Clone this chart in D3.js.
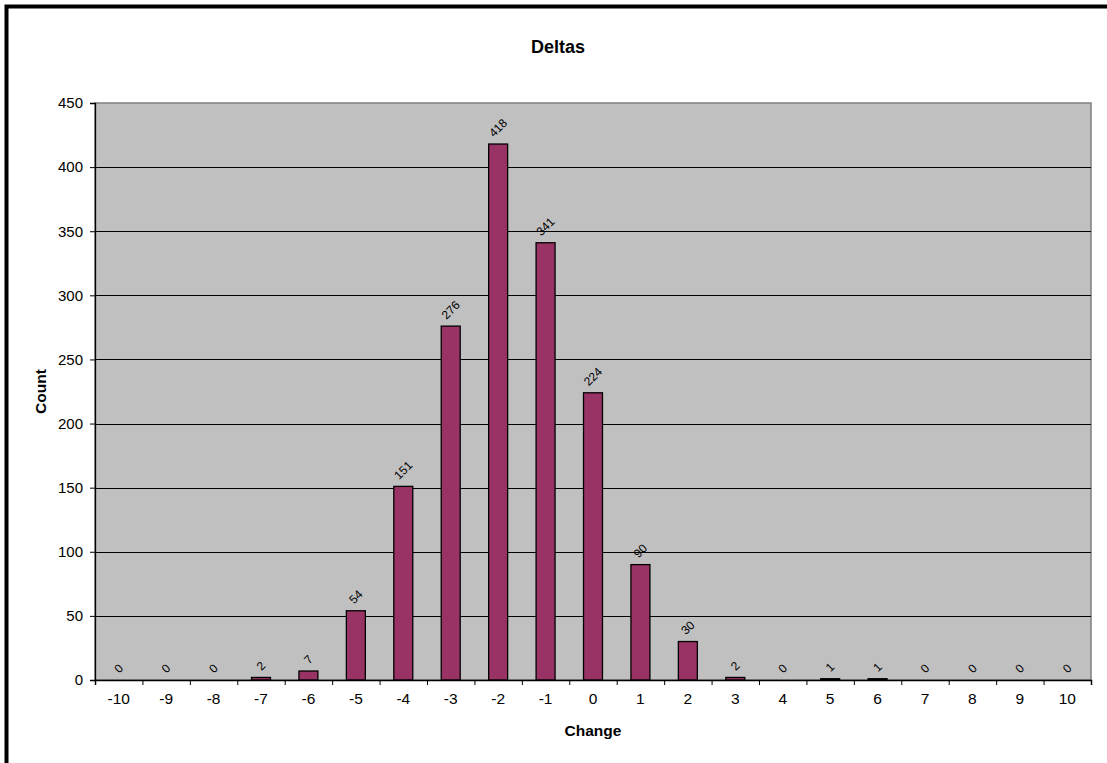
<!DOCTYPE html>
<html>
<head>
<meta charset="utf-8">
<script src="https://cdn.jsdelivr.net/npm/d3@7"></script>
<style>
  html, body { margin: 0; padding: 0; background: #fff; }
  svg { display: block; }
  text { font-family: "Liberation Sans", Arial, sans-serif; fill: #000; }
</style>
</head>
<body>
<svg id="chart" width="1107" height="763"></svg>
<script>
// Histogram of deltas: count of items per change value
const changes = [-10, -9, -8, -7, -6, -5, -4, -3, -2, -1, 0, 1, 2, 3, 4, 5, 6, 7, 8, 9, 10];
const counts  = [0, 0, 0, 2, 7, 54, 151, 276, 418, 341, 224, 90, 30, 2, 0, 1, 1, 0, 0, 0, 0];
const yTicks  = [0, 50, 100, 150, 200, 250, 300, 350, 400, 450];

const chartTitle = "Deltas";
const xTitle = "Change";
const yTitle = "Count";

const svg = d3.select("#chart");
const plot = { left: 95, right: 1091, top: 103, bottom: 680 };

// outer chart frame (runs past the right and bottom edges)
svg.append("rect")
  .attr("x", 6.5).attr("y", 6.5)
  .attr("width", 1110).attr("height", 770)
  .attr("fill", "#fff").attr("stroke", "#000").attr("stroke-width", 4);

const x = d3.scaleBand()
  .domain(changes)
  .range([plot.left, plot.right])
  .paddingInner(0.6)
  .paddingOuter(0.3);

// category boundaries for the tick marks
const xEdge = d3.scaleLinear()
  .domain([0, changes.length])
  .range([plot.left, plot.right]);

const y = d3.scaleLinear()
  .domain([0, 450])
  .range([plot.bottom, plot.top]);

// plot background
svg.append("rect")
  .attr("x", plot.left).attr("y", plot.top)
  .attr("width", plot.right - plot.left).attr("height", plot.bottom - plot.top)
  .attr("fill", "#c0c0c0").attr("stroke", "#808080").attr("stroke-width", 1.5);

// horizontal gridlines
svg.append("g")
  .selectAll("line")
  .data(yTicks.filter(v => v > 0 && v < 450))
  .join("line")
  .attr("x1", plot.left).attr("x2", plot.right)
  .attr("y1", d => Math.round(y(d)) + 0.5).attr("y2", d => Math.round(y(d)) + 0.5)
  .attr("stroke", "#000").attr("stroke-width", 1);

// bars
svg.append("g")
  .selectAll("rect")
  .data(changes.map((c, i) => ({ c, v: counts[i] })))
  .join("rect")
  .attr("x", d => x(d.c))
  .attr("y", d => y(d.v))
  .attr("width", x.bandwidth())
  .attr("height", d => y(0) - y(d.v))
  .attr("fill", "#993366")
  .attr("stroke", "#000")
  .attr("stroke-width", d => d.v > 0 ? 1.3 : 0);

// value labels, rotated 45 degrees above each bar
const labels = svg.append("g")
  .selectAll("text")
  .data(changes.map((c, i) => ({ c, v: counts[i] })))
  .join("text")
  .attr("font-size", 12)
  .attr("text-anchor", "middle")
  .attr("dominant-baseline", "central")
  .text(d => d.v);

labels.each(function (d) {
  const w = this.getComputedTextLength();
  const h = 8.5;
  const cx = x(d.c) + x.bandwidth() / 2;
  const cy = y(d.v) - 6 - (w + h) / (2 * Math.SQRT2);
  d3.select(this).attr("transform", `translate(${cx},${cy}) rotate(-45)`);
});

// y axis
const yAxis = svg.append("g")
  .attr("transform", `translate(${plot.left},0)`)
  .call(d3.axisLeft(y).tickValues(yTicks).tickSize(5).tickPadding(7));
yAxis.select(".domain").attr("stroke", "#000").attr("stroke-width", 1.3);
yAxis.selectAll(".tick line").attr("stroke", "#000");
yAxis.selectAll(".tick text").attr("font-size", 15)
  .attr("font-family", "Liberation Sans, Arial, sans-serif");

// x axis: tick marks at category edges
const xTickAxis = svg.append("g")
  .attr("transform", `translate(0,${plot.bottom})`)
  .call(d3.axisBottom(xEdge).tickValues(d3.range(changes.length + 1)).tickSize(5).tickFormat(""));
xTickAxis.select(".domain").attr("stroke", "#000").attr("stroke-width", 1.5);
xTickAxis.selectAll(".tick line").attr("stroke", "#000");

// x axis: category labels
const xLabelAxis = svg.append("g")
  .attr("transform", `translate(0,${plot.bottom})`)
  .call(d3.axisBottom(d3.scaleBand().domain(changes).range([plot.left, plot.right]))
    .tickSize(0).tickPadding(13));
xLabelAxis.select(".domain").remove();
xLabelAxis.selectAll(".tick text").attr("font-size", 15.5)
  .attr("font-family", "Liberation Sans, Arial, sans-serif");

// titles
svg.append("text")
  .attr("x", 558).attr("y", 53)
  .attr("text-anchor", "middle")
  .attr("font-size", 18).attr("font-weight", "bold")
  .text(chartTitle);

svg.append("text")
  .attr("x", (plot.left + plot.right) / 2).attr("y", 736)
  .attr("text-anchor", "middle")
  .attr("font-size", 15.5).attr("font-weight", "bold")
  .text(xTitle);

svg.append("text")
  .attr("transform", `translate(45.5,${(plot.top + plot.bottom) / 2}) rotate(-90)`)
  .attr("text-anchor", "middle")
  .attr("font-size", 15.5).attr("font-weight", "bold")
  .text(yTitle);
</script>
</body>
</html>
